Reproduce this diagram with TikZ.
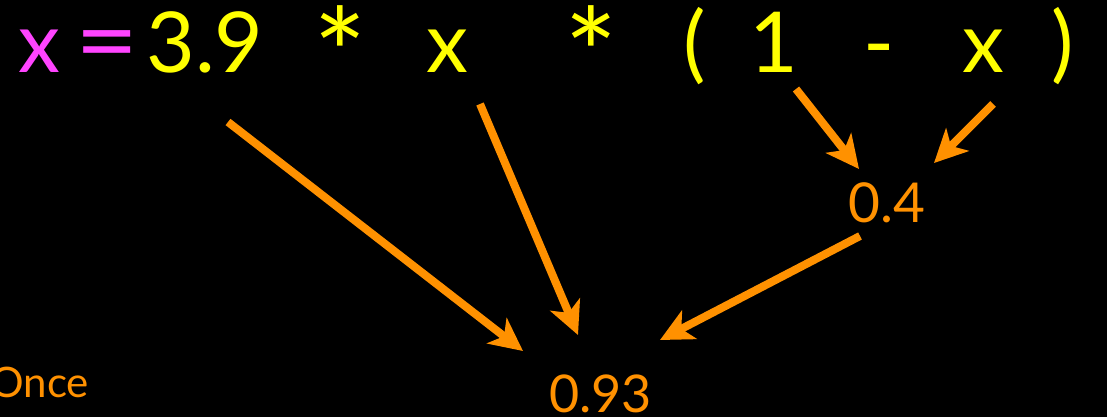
\documentclass[tikz,border=0pt]{standalone}
\usepackage{fontspec}
\setmainfont{Lato}
\usetikzlibrary{arrows.meta}
\definecolor{mag}{RGB}{255,68,255}
\definecolor{yel}{RGB}{255,255,0}
\definecolor{org}{RGB}{255,145,0}
\begin{document}
\begin{tikzpicture}[x=1pt,y=-1pt,
  big/.style={font=\fontsize{84}{84}\selectfont, inner sep=0pt, anchor=base},
  mg/.style={big, text=mag},
  yl/.style={big, text=yel},
  star/.style={yl, font=\fontsize{126}{126}\selectfont},
  val/.style={font=\fontsize{52}{52}\selectfont, inner sep=0pt, anchor=base, text=org, text depth=0pt},
  arr/.style={draw=org, line width=8pt, -{Stealth[length=33pt,width=32pt,inset=9pt]}}]
\fill[black] (0,0) rectangle (1107,417);
\useasboundingbox (0,0) rectangle (1107,417);
% equation
\node[mg] (xa) at (39.5,73) {x};
\node[mg] (eq) at (107,75) {\scalebox{1.3}[1.15]{=}};
\node[yl] (n39) at (205,73) {3.9};
\node[star] (s1) at (340.5,100.5) {*};
\node[yl] (x2) at (447,73) {x};
\node[star] (s2) at (591,100.5) {*};
\node[yl] (lp) at (694.5,73) {(};
\node[yl] (one) at (773.5,73) {1};
\node[yl] (mi) at (879,73) {-};
\node[yl] (x3) at (983,73) {x};
\node[yl] (rp) at (1063,73) {)};
% values
\node[val, font=\fontsize{55}{55}\selectfont] (v4) at (886.5,222) {0.4};
\node[val] (v93) at (600.5,412) {0.93};
\node[font=\fontsize{42}{42}\selectfont, inner sep=0pt, anchor=base east, text=org, text depth=0pt] (once) at (89,397) {Once};
% arrow end points
\coordinate (a1s) at (228,122);
\coordinate (a1e) at (523,351);
\coordinate (a2s) at (480,104);
\coordinate (a2e) at (578,335);
\coordinate (a3s) at (860,236);
\coordinate (a3e) at (660,340);
\coordinate (a4s) at (796,89);
\coordinate (a4e) at (859,169);
\coordinate (a5s) at (993,104);
\coordinate (a5e) at (934,163);
\draw[arr] (a1s) -- (a1e);
\draw[arr] (a2s) -- (a2e);
\draw[arr] (a3s) -- (a3e);
\draw[arr] (a4s) -- (a4e);
\draw[arr] (a5s) -- (a5e);
\end{tikzpicture}
\end{document}
